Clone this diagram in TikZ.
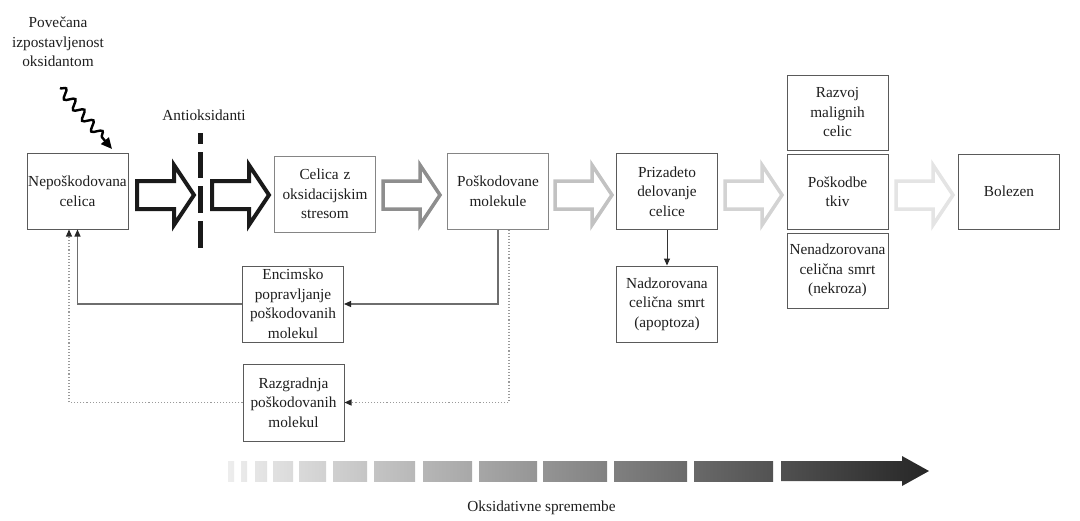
\documentclass[tikz,border=0pt]{standalone}
\usepackage{fontspec}
\setmainfont{Liberation Serif}
\usetikzlibrary{arrows.meta,decorations.pathmorphing}
\definecolor{boxgray}{HTML}{5A5A5A}
\definecolor{boxlight}{HTML}{858585}
\definecolor{txt}{HTML}{1E1E1E}
\definecolor{fbgray}{HTML}{6E6E6E}
\definecolor{dotgray}{HTML}{9A9A9A}
\definecolor{arA}{HTML}{1A1A1A}
\definecolor{arB}{HTML}{8E8E8E}
\definecolor{arC}{HTML}{C2C2C2}
\definecolor{arD}{HTML}{D3D3D3}
\definecolor{arE}{HTML}{E4E4E4}
\newcommand{\hollowarrow}[3]{%
  \draw[line width=#3, draw=#2, line join=miter]
    (#1,181) -- ++(37,0) -- ++(0,-16) -- ++(20,30) -- ++(-20,30) -- ++(0,-16) -- ++(-37,0) -- cycle;}
\begin{document}
\begin{tikzpicture}[x=1pt,y=-1pt,
  font=\fontsize{15.3}{19.5}\selectfont,
  every node/.style={text=txt},
  box/.style={draw=boxgray, line width=1pt, text width=101pt, minimum height=76pt, inner sep=0pt, align=center},
  lbox/.style={box, draw=boxlight},
  tip/.style={-{Triangle[length=7pt,width=6pt,color=black!85]}},
  fb/.style={draw=fbgray, line width=1.1pt, tip},
  fbd/.style={draw=dotgray, line width=1.1pt, dotted, tip},
]
\useasboundingbox (0,0) rectangle (1080,520);
\fill[white] (0,0) rectangle (1080,520);

% boxes
\node[box]  (nep) at (77.5,191) {Nepoškodovana\\celica};
\node[lbox] (cel) at (325,194) {Celica z\\oksidacijskim\\stresom};
\node[lbox] (pos) at (498,191) {Poškodovane\\molekule};
\node[box]  (pri) at (667,191.5) {Prizadeto\\delovanje\\celice};
\node[box]  (nad) at (667,304) {Nadzorovana\\celična smrt\\(apoptoza)};
\node[box, minimum height=75pt]  (raz) at (837.5,112.5) {Razvoj\\malignih\\celic};
\node[box, minimum height=75pt]  (tki) at (837.5,191.5) {Poškodbe\\tkiv};
\node[box, minimum height=75pt]  (nek) at (837.5,270.5) {Nenadzorovana\\celična smrt\\(nekroza)};
\node[box, minimum height=75pt]  (bol) at (1009,191.5) {Bolezen};
\node[box]  (enc) at (293,304) {Encimsko\\popravljanje\\poškodovanih\\molekul};
\node[box, minimum height=77pt]  (rzg) at (293.5,402.5) {Razgradnja\\poškodovanih\\molekul};

% labels
\node[align=center, inner sep=0pt] (exp) at (58,42) {Povečana\\izpostavljenost\\oksidantom};
\node[inner sep=0pt] (anti) at (204,115) {Antioksidanti};
\node[inner sep=0pt] (oks) at (541.5,508) {Oksidativne spremembe};

% wavy arrow
\coordinate (ws) at (60,88);
\coordinate (we) at (112,149);
\draw[line width=2.4pt, black, -{Triangle[length=11pt,width=10pt]},
  decorate, decoration={snake, amplitude=4.5pt, segment length=14pt, post length=11pt}]
  (ws) -- (we);

% antioxidant barrier
\foreach \a/\b in {133/144, 152/178, 186/213, 221/248}
  \draw[line width=5pt, black!90] (200,\a) -- (200,\b);

% hollow arrows
\hollowarrow{137}{arA}{4pt}
\hollowarrow{212}{arA}{4pt}
\hollowarrow{383}{arB}{3.5pt}
\hollowarrow{555}{arC}{3.5pt}
\hollowarrow{725}{arD}{3.5pt}
\hollowarrow{896}{arE}{3.5pt}

% connectors
\draw[draw=black!80, line width=1pt, tip] (pri) -- (nad);
\draw[fb] (pos.south) |- (enc.east);
\draw[fb] (enc.west) -| (nep.south);
\draw[fbd] ([xshift=11pt]pos.south) |- (rzg.east);
\draw[fbd] (rzg.west) -| ([xshift=-8.5pt]nep.south);

% gradient bar
\foreach \xa/\xb/\pa/\pb in {228/234/7/7.7, 241/247/8.4/9.1, 255/267/10/11.3, 273/293/12/14.2,
  299/326/14.9/17.9, 333/367/18.7/22.5, 374/415/23.2/27.8, 423/472/28.7/34.1,
  479/537/34.9/41.4, 543/607/42/49.2, 614/687/49.9/58.1, 694/773/58.9/67.6}
  \shade[left color=black!\pa, right color=black!\pb] (\xa,461) rectangle (\xb,481);
\shade[left color=black!68.5, right color=black!85]
  (781,461) -- (902,461) -- (902,456) -- (929,471) -- (902,486) -- (902,481) -- (781,481) -- cycle;
\end{tikzpicture}
\end{document}
